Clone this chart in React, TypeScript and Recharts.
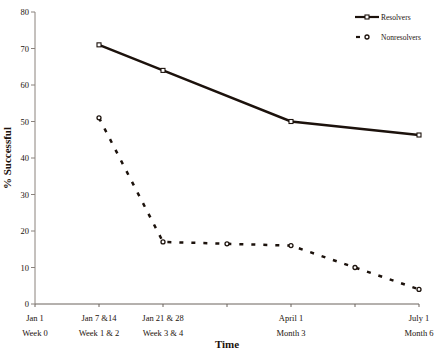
import { Line, LineChart, XAxis, YAxis, Label } from "recharts";

const FONT = "'Liberation Serif', 'Times New Roman', serif";
const INK = "#1c120c";

const periods = [1, 2, 3, 4, 5, 6];
const resolvers = [71, 64, null, 50, null, 46.3];
const nonresolvers = [51, 17, 16.5, 16, 10, 4];

const tickDates = ["Jan 1", "Jan 7 &14", "Jan 21 & 28", "", "April 1", "", "July 1"];
const tickPeriods = ["Week 0", "Week 1 & 2", "Week 3 & 4", "", "Month 3", "", "Month 6"];
const yTicks = [0, 10, 20, 30, 40, 50, 60, 70, 80];

const data = periods.map((p, i) => ({
  t: p,
  resolvers: resolvers[i],
  nonresolvers: nonresolvers[i],
}));

function SquareDot(props: any) {
  const { cx, cy, value } = props;
  if (value == null || cx == null) return null;
  return (
    <rect x={cx - 2} y={cy - 2} width={4} height={4} fill="#fff" stroke={INK} strokeWidth={1.1} />
  );
}

function CircleDot(props: any) {
  const { cx, cy, value } = props;
  if (value == null || cx == null) return null;
  return <circle cx={cx} cy={cy} r={2} fill="#fff" stroke={INK} strokeWidth={1.3} />;
}

function TimeTick({ x, y, payload }: any) {
  const i = payload.value;
  return (
    <g transform={`translate(${x},${y})`}>
      <text y={12} textAnchor="middle" fontSize={8.5} fontFamily={FONT} fill={INK}>
        {tickDates[i]}
      </text>
      <text y={27} textAnchor="middle" fontSize={8.5} fontFamily={FONT} fill={INK}>
        {tickPeriods[i]}
      </text>
    </g>
  );
}

function YTitle({ viewBox }: any) {
  const cy = viewBox.y + viewBox.height / 2;
  return (
    <text
      x={0}
      y={0}
      transform={`translate(11,${cy}) rotate(-90)`}
      textAnchor="middle"
      fontFamily={FONT}
      fontSize={11}
      fontWeight="bold"
      fill={INK}
    >
      % Successful
    </text>
  );
}

function LegendBox() {
  return (
    <svg width={100} height={40} style={{ position: "absolute", left: 355, top: 11 }}>
      <line x1={0} y1={6} x2={24} y2={6} stroke={INK} strokeWidth={2.2} />
      <rect x={10} y={4} width={4} height={4} fill="#fff" stroke={INK} strokeWidth={1.1} />
      <text x={26} y={9} fontSize={7.5} fontFamily={FONT} fill={INK}>Resolvers</text>
      <line x1={1} y1={26} x2={5} y2={26} stroke={INK} strokeWidth={2.2} />
      <circle cx={12} cy={26} r={2} fill="#fff" stroke={INK} strokeWidth={1.3} />
      <text x={26} y={29} fontSize={7.5} fontFamily={FONT} fill={INK}>Nonresolvers</text>
    </svg>
  );
}

export default function App() {
  return (
    <div style={{ position: "absolute", left: 0, top: 0, width: 440, height: 352, background: "#fff" }}>
      <LineChart width={440} height={352} data={data} margin={{ top: 12, right: 21, left: 0, bottom: 0 }}>
        <XAxis
          dataKey="t"
          type="number"
          domain={[0, 6]}
          ticks={[0, 1, 2, 3, 4, 5, 6]}
          tick={<TimeTick />}
          tickSize={3}
          height={48}
          stroke="#6b625c"
          interval={0}
        >
          <Label
            value="Time"
            position="insideBottom"
            offset={4}
            style={{ fontFamily: FONT, fontSize: 11, fontWeight: "bold", fill: INK }}
          />
        </XAxis>
        <YAxis
          domain={[0, 80]}
          ticks={yTicks}
          width={35}
          tickSize={4}
          stroke="#8a827c"
          tick={{ fontSize: 8.5, fontFamily: FONT, fill: INK }}
          interval={0}
        >
          <Label content={<YTitle />} />
        </YAxis>
        <Line
          dataKey="resolvers"
          type="linear"
          stroke={INK}
          strokeWidth={2.5}
          connectNulls
          dot={<SquareDot />}
          activeDot={false}
          isAnimationActive={false}
        />
        <Line
          dataKey="nonresolvers"
          type="linear"
          stroke={INK}
          strokeWidth={2.5}
          strokeDasharray="4 8"
          dot={<CircleDot />}
          activeDot={false}
          isAnimationActive={false}
        />
      </LineChart>
      <LegendBox />
    </div>
  );
}
